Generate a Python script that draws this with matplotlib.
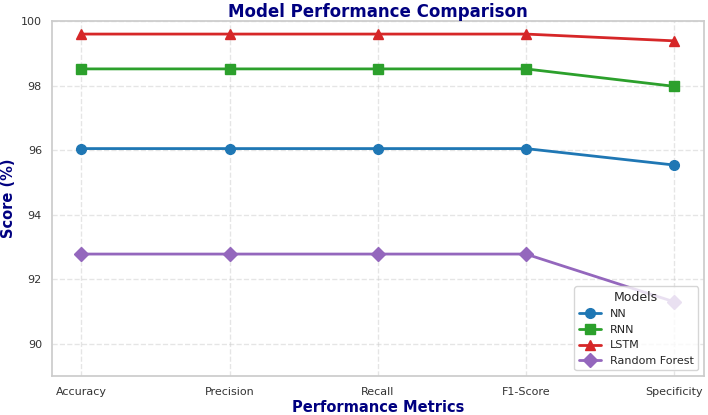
import matplotlib
matplotlib.use("Agg")
import matplotlib.pyplot as plt
import seaborn as sns

metrics = ["Accuracy", "Precision", "Recall", "F1-Score", "Specificity"]
nn = [96.05, 96.05, 96.05, 96.05, 95.54]
rnn = [98.52, 98.52, 98.52, 98.52, 97.98]
lstm = [99.60, 99.60, 99.60, 99.60, 99.39]
rf = [92.78, 92.78, 92.78, 92.78, 91.30]
series_names = ["NN", "RNN", "LSTM", "Random Forest"]

sns.set_theme(style="whitegrid")
plt.rcParams['font.family'] = ['DejaVu Sans']

fig = plt.figure(figsize=(7.08, 4.15), dpi=100)
ax = fig.add_axes([0.073, 0.094, 0.921, 0.855])

styles = [("#1f77b4", "o", 7), ("#2ca02c", "s", 7), ("#d62728", "^", 7), ("#9467bd", "D", 7)]
for vals, name, (c, m, ms) in zip([nn, rnn, lstm, rf], series_names, styles):
    ax.plot(metrics, vals, color=c, marker=m, markersize=ms, linewidth=2.0, label=name)

ax.set_ylim(89, 100)
ax.set_yticks([90, 92, 94, 96, 98, 100])
ax.grid(True, linestyle="--", alpha=0.5)
ax.tick_params(axis='x', labelsize=8, colors="#333333", pad=2)
ax.tick_params(axis='y', labelsize=8, colors="#333333", pad=1)
for s in ax.spines.values():
    s.set_color("#cccccc")

ax.set_title("Model Performance Comparison", fontsize=12, fontweight="bold", color="navy", pad=3)
ax.set_xlabel("Performance Metrics", fontsize=10.5, fontweight="bold", color="navy")
ax.set_ylabel("Score (%)", fontsize=10.5, fontweight="bold", color="navy")
ax.xaxis.set_label_coords(0.5, -0.068)
ax.yaxis.set_label_coords(-0.054, 0.5)

leg = ax.legend(title="Models", loc="lower right", fontsize=8, title_fontsize=9, frameon=True)

fig.savefig("out.png", dpi=100)
